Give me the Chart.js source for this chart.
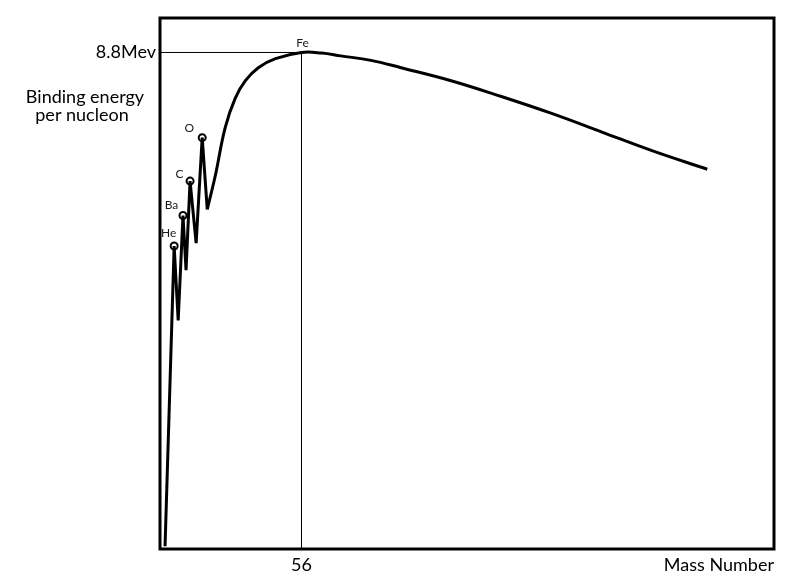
<!DOCTYPE html>
<html>
<head>
<meta charset="utf-8">
<script src="https://cdn.jsdelivr.net/npm/chart.js@4"></script>
<style>
  html, body { margin: 0; padding: 0; background: #fff; }
  #wrap { width: 785px; height: 579px; }
</style>
</head>
<body>
<div id="wrap"><canvas id="c" width="785" height="579"></canvas></div>
<script>
// ---- data ----
const riseMass   = [2, 5.6, 7.2, 9.1, 10.3, 11.9, 14.3, 16.7, 18.7];
const riseEnergy = [0.05, 5.37, 4.05, 5.91, 4.94, 6.52, 5.42, 7.29, 6.02];

const mainMass   = [18.7, 21.9, 25.8, 29.8, 33.8, 38.9, 45.7, 56, 64, 71.5, 83.5, 95.4, 115.2, 135.1, 155, 174.9, 194.7, 216.6];
const mainEnergy = [6.02, 6.62, 7.47, 7.99, 8.30, 8.53, 8.69, 8.80, 8.79, 8.74, 8.66, 8.53, 8.30, 8.02, 7.72, 7.39, 7.06, 6.73];

const elementNames  = ['He', 'Ba', 'C', 'O', 'Fe'];
const elementMass   = [5.6, 9.1, 11.9, 16.7, 56];
const elementEnergy = [5.37, 5.91, 6.52, 7.29, 8.80];
const markedCount   = 4; // He, Ba, C, O carry circle markers

const xTickValues = [56];
const xTickLabels = ['56'];
const yTickValues = [8.8];
const yTickLabels = ['8.8Mev'];

const yAxisLabel = ['Binding energy', 'per nucleon'];
const xAxisLabel = 'Mass Number';

// ---- styling ----
const labelOffsets = [[-5.5, -13], [-11.5, -10.5], [-10.5, -7], [-13, -9.5], [1, -9]];
const bigFont = { family: 'Lato, "Open Sans", sans-serif', size: 18 };

const toXY = (xs, ys) => xs.map((x, i) => ({ x: x, y: ys[i] }));

const guideData = [
  { x: 0, y: yTickValues[0] },
  { x: xTickValues[0], y: yTickValues[0] },
  { x: xTickValues[0], y: 0 }
];

const overlay = {
  id: 'overlay',
  afterDatasetsDraw(chart) {
    const { ctx, chartArea: a, scales } = chart;
    ctx.save();
    // frame
    ctx.strokeStyle = '#000';
    ctx.lineWidth = 3;
    ctx.strokeRect(a.left, a.top, a.right - a.left, a.bottom - a.top);
    // element labels
    ctx.fillStyle = '#1a1a1a';
    ctx.font = '12px Lato, "Open Sans", sans-serif';
    ctx.textAlign = 'center';
    ctx.textBaseline = 'middle';
    elementNames.forEach((n, i) => {
      const px = scales.x.getPixelForValue(elementMass[i]) + labelOffsets[i][0];
      const py = scales.y.getPixelForValue(elementEnergy[i]) + labelOffsets[i][1];
      ctx.fillText(n, px, py);
    });
    // y axis label
    ctx.fillStyle = '#000';
    ctx.font = '18px Lato, "Open Sans", sans-serif';
    ctx.fillText(yAxisLabel[0], 85, 97);
    ctx.fillText(yAxisLabel[1], 82, 115);
    ctx.restore();
  }
};

new Chart(document.getElementById('c'), {
  type: 'line',
  data: {
    datasets: [
      {
        data: guideData,
        borderColor: '#000', borderWidth: 1, pointRadius: 0, tension: 0, fill: false
      },
      {
        data: toXY(riseMass, riseEnergy),
        borderColor: '#000', borderWidth: 3, pointRadius: 0, tension: 0, fill: false,
        borderJoinStyle: 'miter'
      },
      {
        data: toXY(mainMass, mainEnergy),
        borderColor: '#000', borderWidth: 3, pointRadius: 0,
        tension: 0.4, fill: false
      },
      {
        data: toXY(elementMass.slice(0, markedCount), elementEnergy.slice(0, markedCount)),
        showLine: false, pointRadius: 3.5, pointBorderWidth: 2,
        pointBorderColor: '#000', pointBackgroundColor: '#fff'
      }
    ]
  },
  options: {
    responsive: false,
    animation: false,
    devicePixelRatio: 1,
    layout: { padding: { top: 18, right: 11, left: 0, bottom: 0 } },
    plugins: { legend: { display: false }, tooltip: { enabled: false } },
    scales: {
      x: {
        type: 'linear', min: 0, max: 243,
        grid: { display: false, drawTicks: false },
        border: { display: false },
        afterBuildTicks: s => { s.ticks = xTickValues.map(v => ({ value: v })); },
        afterFit: s => { s.height = 30; },
        ticks: {
          autoSkip: false, maxRotation: 0, padding: 5, color: '#000', font: bigFont,
          callback: (v) => xTickLabels[xTickValues.indexOf(v)]
        },
        title: {
          display: true, text: xAxisLabel, align: 'end', color: '#000', font: bigFont,
          padding: { top: 0, bottom: 3 }
        }
      },
      y: {
        type: 'linear', min: 0, max: 9.411,
        grid: { display: false, drawTicks: false },
        border: { display: false },
        afterBuildTicks: s => { s.ticks = yTickValues.map(v => ({ value: v })); },
        afterFit: s => { s.width = 160; },
        ticks: {
          autoSkip: false, padding: 4, color: '#000', font: bigFont,
          callback: (v) => yTickLabels[yTickValues.indexOf(v)]
        }
      }
    }
  },
  plugins: [overlay]
});
</script>
</body>
</html>
